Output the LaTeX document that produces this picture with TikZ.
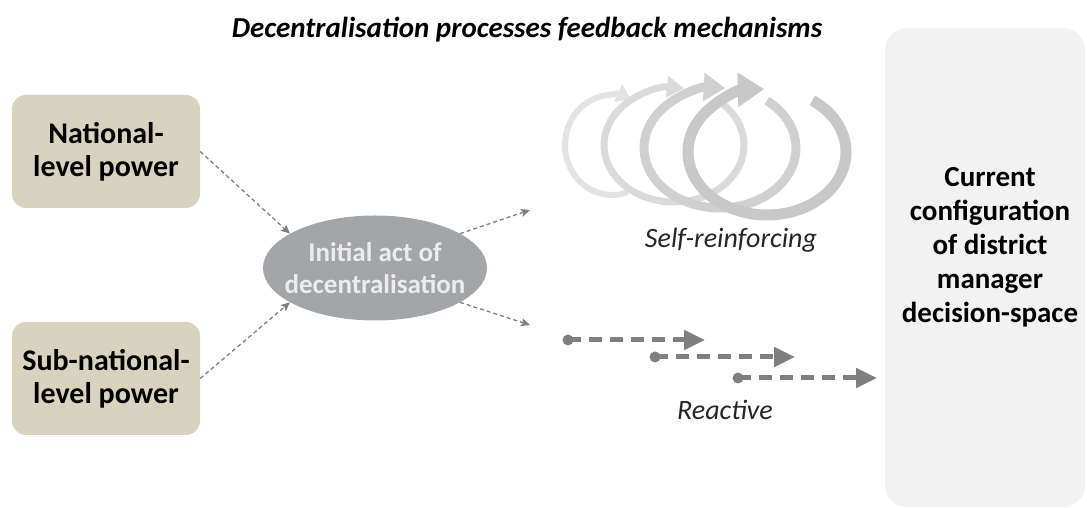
\documentclass[tikz,border=0pt]{standalone}
\usepackage{fontspec}
\setmainfont{Carlito}
\usetikzlibrary{arrows.meta,shapes.geometric}
\definecolor{beige}{HTML}{D8D3BF}
\definecolor{ellgray}{HTML}{A3A5A8}
\definecolor{ellText}{HTML}{ECECEC}
\definecolor{boxgray}{HTML}{F2F2F2}
\definecolor{arrgray}{HTML}{7F7F7F}
\definecolor{ringA}{HTML}{E3E3E3}
\definecolor{ringB}{HTML}{DADADA}
\definecolor{ringC}{HTML}{D0D0D0}
\definecolor{ringD}{HTML}{C8C8C8}
\tikzset{
  powerbox/.style={fill=beige, rounded corners=14pt, minimum width=188pt, minimum height=113pt,
    align=center, font=\fontsize{30}{33}\selectfont\bfseries, text=black},
  initell/.style={ellipse, fill=ellgray, minimum width=224pt, minimum height=105pt, inner sep=0pt},
  inittext/.style={align=center, font=\fontsize{27}{32}\selectfont\bfseries, text=ellText},
  curbox/.style={fill=boxgray, rounded corners=22pt, minimum width=200pt, minimum height=479pt},
  curtext/.style={align=center, font=\fontsize{29}{34}\selectfont\bfseries, text=black},
  thinarrow/.style={draw=arrgray, line width=1.3pt, dash pattern=on 4pt off 3pt, -{Stealth[length=9pt,width=8pt,inset=2pt]}},
  ring/.style={line width=#1, -{Triangle[length=2.4*#1,width=3*#1]}},
  reactarrow/.style={draw=arrgray, line width=5pt, dash pattern=on 13pt off 8pt, -{Triangle[length=21pt,width=19pt]}},
  reactdot/.style={circle, fill=arrgray, minimum size=11pt, inner sep=0pt},
  lbl/.style={font=\fontsize{28}{32}\selectfont\itshape, text=black!85}
}
\begin{document}
\begin{tikzpicture}[x=1pt,y=1pt]
\useasboundingbox (0,0) rectangle (1087,508);
% title
\node[font=\fontsize{29}{33}\selectfont\bfseries\itshape] (title) at (527,478) {Decentralisation processes feedback mechanisms};
% right box
\node[curbox] (curbg) at (985,240.5) {};
\node[curtext] (cur) at (990,260.5) {Current\\configuration\\of district\\manager\\decision-space};
% left boxes
\node[powerbox] (nat) at (106,356.5) {National-\\level power};
\node[powerbox] (sub) at (106,129.5) {Sub-national-\\level power};
% ellipse
\node[initell] (init) at (375,240) {};
\node[inittext] (initt) at (init.center) {Initial act of\\decentralisation};
% dashed arrows
\coordinate (o1) at (530,298);
\coordinate (o2) at (530,183);
\draw[thinarrow] (nat.east) -- (init.158);
\draw[thinarrow] (sub.east) -- (init.202);
\draw[thinarrow] (init.22) -- (o1);
\draw[thinarrow] (init.-22) -- (o2);
% self-reinforcing rings
\draw[ring=6pt, draw=ringA] (612,363) ++(-70:47pt and 50pt) arc[start angle=-70, end angle=-294, x radius=47pt, y radius=50pt];
\draw[ring=7pt, draw=ringB] (674,363) ++(50:70pt and 57pt) arc[start angle=50, end angle=-278, x radius=70pt, y radius=57pt];
\draw[ring=9pt, draw=ringC] (720,360) ++(52:76pt and 60pt) arc[start angle=52, end angle=-274, x radius=76pt, y radius=60pt];
\draw[ring=11pt, draw=ringD] (767,356) ++(55:79pt and 63pt) arc[start angle=55, end angle=-268, x radius=79pt, y radius=63pt];
\node[lbl] (selfl) at (731,268) {Self-reinforcing};
% reactive arrows
\node[reactdot] (d1) at (568,168) {};
\node[reactdot] (d2) at (655,151) {};
\node[reactdot] (d3) at (738,130) {};
\coordinate (t1) at (705,168);
\coordinate (t2) at (795,151);
\coordinate (t3) at (877,130);
\draw[reactarrow] (d1.center) -- (t1);
\draw[reactarrow] (d2.center) -- (t2);
\draw[reactarrow] (d3.center) -- (t3);
\node[lbl] (reactl) at (725,98) {Reactive};
\end{tikzpicture}
\end{document}
